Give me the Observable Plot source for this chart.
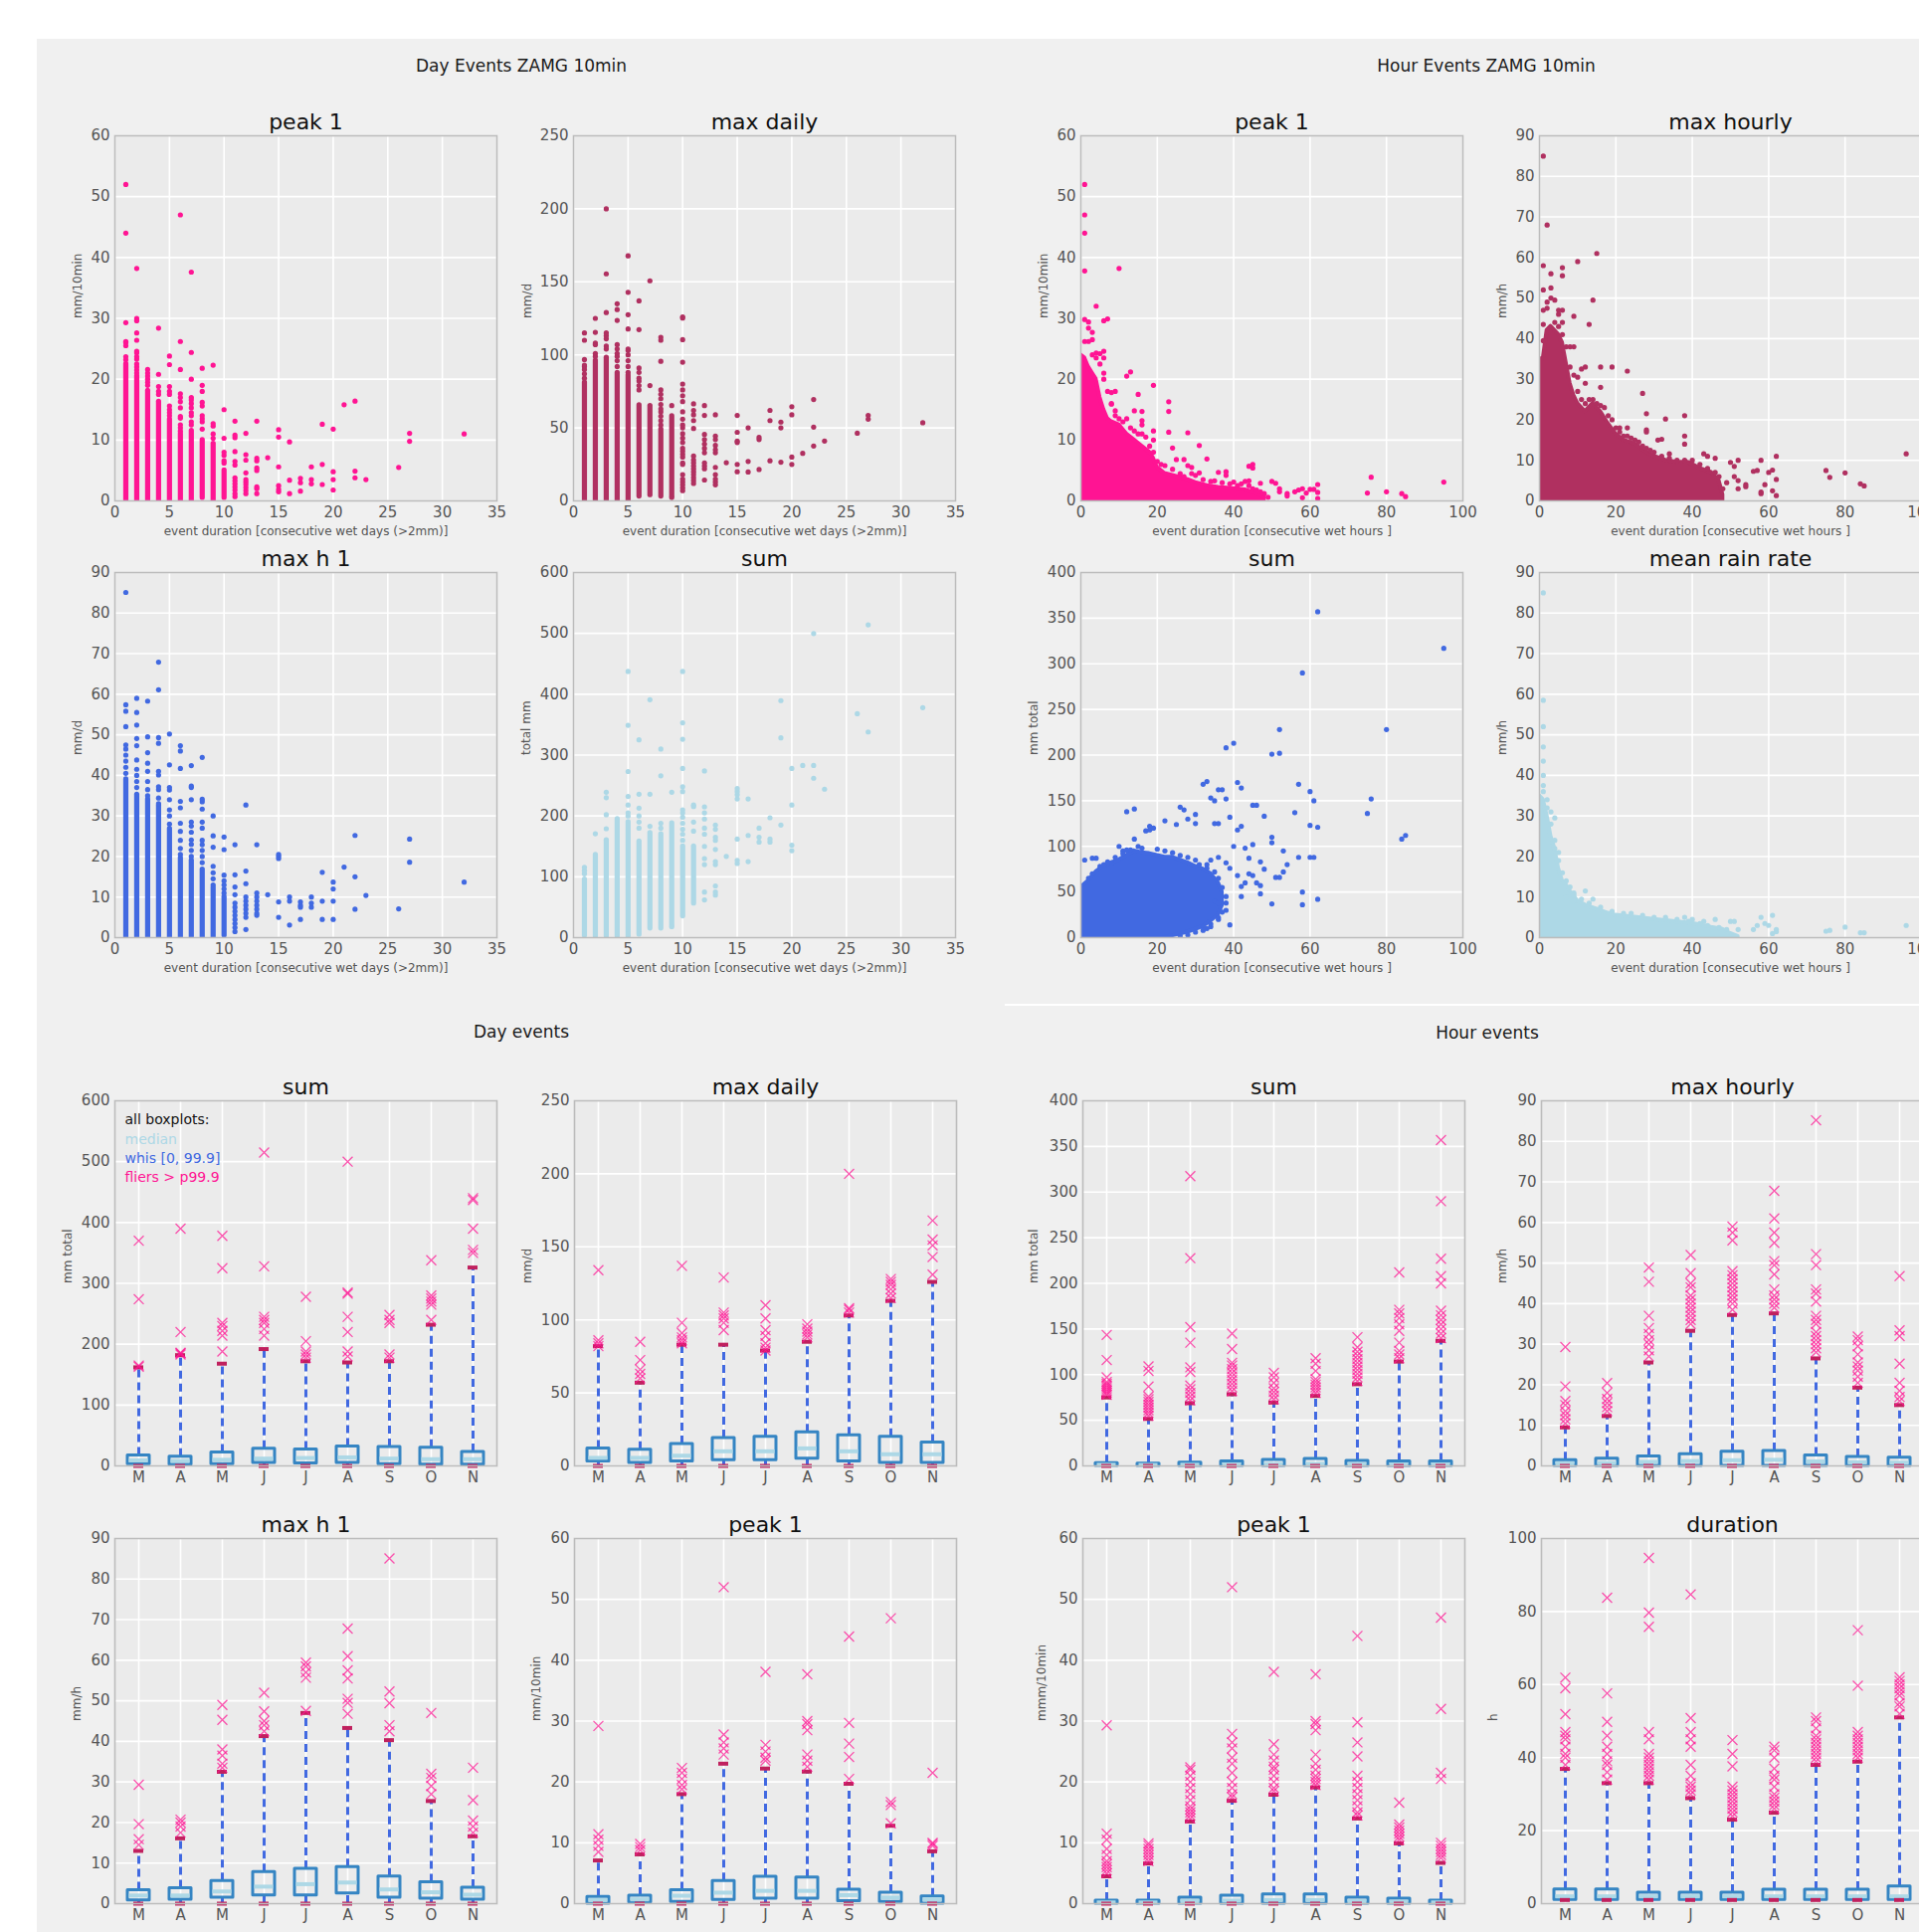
<!DOCTYPE html>
<html><head><meta charset="utf-8">
<script src="https://cdn.jsdelivr.net/npm/d3@7"></script>
<script src="https://cdn.jsdelivr.net/npm/@observablehq/plot@0.6"></script>
<style>
body{margin:0;background:#fff;overflow:hidden;font-family:"DejaVu Sans",sans-serif}
#root{position:relative;width:1929px;height:1942px;overflow:hidden}
.bg{position:absolute;left:37px;top:39px;right:0;bottom:0;background:#f0f0f0}
.sep{position:absolute;left:1010px;top:1009px;right:0;height:2px;background:#fff}
.hdr{position:absolute;transform:translate(-50%,-50%);font-size:17px;color:#1a1a1a;white-space:nowrap}
.panel{position:absolute}
.panel svg{max-width:none !important;display:block}
</style></head>
<body><div id="root"><div class="bg"></div><div class="sep"></div></div>
<script>
// ---------------- DATA ----------------
const monthNames = ["Mar","Apr","May","Jun","Jul","Aug","Sep","Oct","Nov"];
const dayXLabel = "event duration [consecutive wet days (>2mm)]";
const hourXLabel = "event duration [consecutive wet hours ]";
const legendLabels = ["all boxplots:","median","whis [0, 99.9]","fliers > p99.9"];

// Day events scatter: dense stacked columns [duration, low, high] + single points [duration, [values]]
const dayPeakCols = [[1,0,22.5],[2,0,20.5],[3,0,18.1],[4,0,16.3],[5,0,13.4],[6,0,11],[7,0,11.5],[8,0.5,10],[9,0,9.4],[10,0.5,5]];
const dayPeakPts = [[1,[23.2,23.7,25.5,26,26.2,29.3,44,52]],[2,[21,21.5,22,22.5,23.3,23.7,24.3,24.6,26.4,27.6,29.6,30,38.2]],[3,[19,19.5,20,20.5,21,21.6]],[4,[17.5,18,18.8,20.8,28.4]],[5,[14,14.5,15,15.6,17.5,18,18.8,22.4,23.8]],[6,[11.5,12,12.5,13.6,13.9,15.3,16.3,17,17.6,21.6,26.2,47]],[7,[12.5,13,14,14.5,15.3,16,16.6,17,20,24.4,37.6]],[8,[11.8,13,13.5,14,15.6,16.2,18,19,21.8]],[9,[10.3,11,12.3,12.7,22.3]],[10,[6.2,6.6,7.5,8,10.3,15]],[11,[0.7,1.2,1.8,2.3,2.8,3.3,3.8,5.9,6.5,8.1,10.4,10.8,13.1]],[12,[1.2,1.7,2.2,2.7,3.1,3.5,4.6,6.7,7.6,11.1]],[13,[1.2,2,2.3,5,5.4,6.6,7,13.1]],[14,[7.1]],[15,[1.5,1.9,2.5,5.6,10.5,11.7]],[16,[1.2,3.4,9.7]],[17,[1.6,3,3.7]],[18,[2.8,3.5,5.6]],[19,[2.7,6,12.6]],[20,[1.8,3.5,4.8,11.8]],[21,[15.8]],[22,[3.8,4.9,16.4]],[23,[3.5]],[26,[5.5]],[27,[9.8,11.1]],[32,[11]]];

const dayMaxCols = [[1,0,81],[2,0,96],[3,0,98],[4,0,87.6],[5,0,86],[6,3,65.5],[7,4,65],[8,3,49],[9,3,58]];
const dayMaxPts = [[1,[84,87,90,92,93,96.8,110,115]],[2,[99,101,107,108,115.4,125]],[3,[104,106,111,113,115,129,155.5,200]],[4,[92,96,99,101,104,107,123.6,131,135]],[5,[88,92,96,100,103,104,117.7,127.5,142.8,167.8]],[6,[76,79,82,84,88,91,117.3,137]],[7,[79,150.7]],[8,[52,55,58,61,63,66,70,73,76,95.6,110,112]],[9,[2.3,65.3]],[10,[7,9,11,13,15,18,25,26,30,32,34,36,40,43,46,50,52,56,61,68,72,76,80,95,110.4,125.2,126]],[11,[12,14,16,18,20,22,24,26,28,30.7,49.6,55,59,62,66.5]],[12,[14.3,22,24,26,33,36,39,42,45.5,58.5,65.3]],[13,[11,13,15,18,23,33,35,38,42,44.4,59]],[14,[26.2]],[15,[20,25,40,41,47,58.5]],[16,[19.8,27,50]],[17,[21.5,42,43.5]],[18,[27.5,55,62]],[19,[26.5,50,54]],[20,[25,30,59,64.5]],[21,[32.6]],[22,[37.6,50.5,69.4]],[23,[41]],[26,[46.4]],[27,[56,58.5]],[32,[53.5]]];

const dayMaxhCols = [[1,0,39],[2,0,35.2],[3,0,34.1],[4,0,32.5],[5,0,26.8],[6,0,19.6],[7,0,19],[8,0,16.8],[9,0,12.3],[10,0.5,10]];
const dayMaxhPts = [[1,[40.5,42,43.5,45,46.5,47.5,52,55.8,57.4,85.1]],[2,[37,38.5,40,41.5,43.8,47.3,49.1,52.4,55.5,59]],[3,[35,36.5,38.5,41,43,45.6,49.5,58.3]],[4,[33,34.4,36.5,37.2,40.1,41,47.9,49.3,61.1,67.9]],[5,[28,30,31.5,34,36.4,37,42.6,50.2]],[6,[20.5,22,24,26.2,28.2,32,33.6,41.7,46,47.3]],[7,[20,21.5,23,24.1,26,27.5,28.5,34,37,37.4,42.4]],[8,[18.5,20,21.5,22.9,24,27,28.5,31.7,33.5,34.1,44.4]],[9,[13,14.5,16,17.6,22.3,25.1,30]],[10,[11,12,13,14,15.4,21.7,24.8]],[11,[1.5,2.5,3.5,4.5,5.5,6.5,7.5,8.5,10.6,12.5,15.5,22.9]],[12,[2,5,6,7,8,9,10,13.3,16.4,32.7]],[13,[5.5,6,7,8,9,10,11,22.9]],[14,[10.6]],[15,[5,8.8,19.5,20,20.5]],[16,[3.1,9,10]],[17,[4.5,7.5,8,8.8]],[18,[7.5,8.5,10]],[19,[4.5,9,16.1]],[20,[4.5,9,12,13.7]],[21,[17.4]],[22,[7,15,25.2]],[23,[10.4]],[26,[7.1]],[27,[18.6,24.3]],[32,[13.7]]];

const daySumCols = [[1,3,95.5],[2,2,136],[3,2,160],[4,2,195],[5,2,190],[6,5,158],[7,15,172],[8,15,170],[9,20,188],[10,35,150],[11,56,150]];
const daySumPts = [[1,[105,110,115.6]],[2,[170.8]],[3,[179,202,230,239]],[5,[200,205,218,232,273,349,437.5]],[6,[180,190,200,212.8,235.7,325]],[7,[183,235.7,391]],[8,[180,188,266,310]],[9,[18,239]],[10,[160,170,178,188,198,205,210,240,248,278,326,353,437.5]],[11,[175,190,215.5,218]],[12,[62,75,120,130,150,170,180,195,205,215,274]],[13,[70,75,85,120,125,145,160,165,178,185]],[14,[133.6]],[15,[122,127,162,228,235,240,245]],[16,[125,168,228]],[17,[157,165,180]],[18,[157,162,197]],[19,[185,328.4,389.5]],[20,[143,152,218,278]],[21,[283]],[22,[262,283,499.7]],[23,[244]],[26,[368]],[27,[338,514]],[32,[378]]];

// Hour events scatter: dense cloud envelope [duration, low, high] + single points [duration, value]
const hourPeakDense = [[0,0,24],[1,0,23.5],[2,0,22],[3,0,21],[4,0,20],[5,0,17],[6,0,15],[7,0,13.5],[8,0,13],[10,0,12.5],[12,0,11],[14,0,10],[16,0,9],[18,0,8],[19,0,7],[20,0,5.5],[22,0,4.5],[25,0,4],[28,0,3.5],[30,0,3],[33,0,2.5],[36,0,2.2],[40,0,2],[43,0,1.8],[46,0,1.2],[48,0,0.6]];
const hourPeakPts = [[1,52],[1,47],[1,44],[1,37.8],[10,38.2],[4,32],[1,29.8],[2,29.4],[2,28.4],[3,27.7],[1,26.2],[2,26.2],[3,26.5],[6,29.6],[7,29.9],[4,24.3],[5,24.2],[6,24.6],[6,23.5],[6,20],[12,20.5],[13,21.2],[19,19],[8,17.8],[9,18],[15,17.5],[8,15.9],[9,14.8],[14,14.8],[16,14.7],[16,13.2],[16,12.5],[23,16.3],[23,14.7],[23,11.3],[19,11.5],[19,10],[28,11.2],[24,8.7],[31,9.1],[25,6.8],[27,6.8],[28,5.8],[29,5.5],[33,6.9],[31,4.6],[36,4.7],[38,4.8],[38,4.2],[40,3.1],[44,5.7],[45,6],[45,5.4],[43,3.2],[44,3.3],[47,2.9],[50,3.2],[51,2.9],[48,1.2],[49,0.6],[52,2],[52,1.5],[54,1.2],[54,0.8],[56,1.5],[57,1.8],[58,2],[58,0.5],[60,1.9],[61,1.9],[62,2.7],[62,1.4],[62,0.4],[59,1.3],[75,1.3],[76,3.9],[80,1.5],[84,1.2],[85,0.7],[95,3.1],
  [3,24],[4,23.5],[5,22.5],[6,21],[7,18],[8,16],[9,14],[10,13.5],[11,13],[12,13.5],[13,12],[14,11.5],[15,11],[16,11],[17,10.5],[18,9],[19,8],[20,6.5],[21,6],[22,5.8],[24,5.2],[26,4.5],[27,4],[29,4.5],[30,4.2],[32,3.5],[34,3.2],[35,3.3],[37,3],[39,2.8],[41,2.5],[42,2.8],[44,2.5],[45,2],[46,1.8],[47,1.5]];

const hourMaxDense = [[0,0,35],[1,0,35],[2,0,42],[3,0,43],[5,0,41],[6,0,39],[7,0,34],[8,0,29],[9,0,26],[10,0,24],[12,0,22],[14,0,24],[16,0,22],[18,0,19],[20,0,16.5],[22,0,15],[25,0,14],[28,0,12],[30,0,11],[33,0,10],[36,0,9.5],[39,0,9.5],[42,0,8],[45,0,7],[47,0,5],[48,0,1.5]];
const hourMaxPts = [[1,85],[2,68],[15,61],[10,59],[1,58],[6,57.5],[6,55.5],[3,56],[1,52],[3,52.5],[3,50],[4,49.5],[2,49],[14,49.5],[1,47],[2,47.5],[5,47],[6,47],[5,46],[9,45.5],[13,43.5],[1,43.5],[6,44],[1,39.5],[8,38],[9,38],[12,33],[11,32.5],[16,33],[19,33],[23,32],[10,30.5],[12,29],[16,28],[27,26.5],[28,21.5],[38,21],[33,20.2],[28,17.5],[28,17],[23,18],[21,18],[38,16],[38,14],[31,15],[32,15.2],[34,11.6],[43,11.6],[44,11],[46,10.5],[50,9.5],[51,8.5],[52,10],[49,4.5],[51,6],[52,5],[54,4],[54,3.5],[52,3],[57,7.5],[58,10],[56,7.3],[60,7],[61,7.6],[62,11],[62,5.3],[59,4],[61,2.5],[58,1.8],[62,1.3],[58,2.2],[75,7.5],[76,5.8],[80,6.9],[84,4.2],[85,3.7],[96,11.6],
  [4,44],[5,43],[6,41],[7,38],[8,33],[9,31],[10,27],[11,25],[12,24],[13,25],[14,25],[15,24],[16,23.5],[17,23],[18,21],[19,20],[20,18],[21,17],[22,16],[23,16],[24,15.5],[25,15],[26,14.5],[27,13.5],[28,13],[29,12.5],[30,12],[32,11],[34,10.5],[36,10],[38,10],[40,10],[42,9],[44,8],[46,7],[47,6],[48,3]];

const hourSumDense = [[0,0,55],[2,0,62],[4,0,72],[6,0,78],[8,0,82],[10,0,85],[12,0,90],[14,0,95],[16,0,93],[18,0,92],[20,0,90],[22,0,88],[24,2,88],[26,4,85],[28,6,82],[30,9,78],[32,12,75],[34,18,70],[36,25,60],[37,35,50]];
const hourSumPts = [[62,357],[95,317],[58,290],[52,228],[80,228],[40,213],[38,208],[50,201],[52,202],[32,168],[33,171],[41,170],[42,164],[36,162],[37,162],[57,168],[60,160],[61,150],[76,152],[34,153],[35,150],[38,152],[75,136],[56,137],[26,143],[27,140],[12,138],[14,141],[30,135],[28,130],[39,132],[30,125],[35,125],[22,128],[36,125],[45,145],[46,145],[48,133],[60,123],[62,121],[84,108],[85,112],[42,122],[41,118],[18,118],[19,120],[25,124],[50,110],[50,104],[57,88],[60,88],[61,88],[53,95],[54,80],[58,50],[58,36],[62,42],[50,37],[45,68],[51,66],[52,66],[53,72],[47,57],[47,48],[1,85],[3,87],[4,87],[8,82],[10,100],[11,95],[13,96],[14,108],[17,117],[18,122],[40,100],[43,98],[45,102],[39,76],[41,68],[39,14],[42,45],[44,70],[33,80],[34,85],[36,88],[38,82],[42,56],[43,60],[46,60],[35,40],[36,38],[38,30],[36,20],[33,10],[34,12],[32,12],[48,75],[47,83],[44,87],
  [2,65],[3,70],[5,78],[6,80],[7,83],[9,88],[11,92],[12,96],[15,100],[16,98],[20,97],[22,95],[24,93],[26,90],[28,88],[30,85],[31,80],[33,76],[35,72],[36,65],[37,55],[38,45],[38,38],[37,28],[36,22],[34,15],[32,8],[30,6],[28,3],[26,2]];

const hourRateDense = [[0,0,35],[1,0,34],[2,0,30],[3,0,25],[4,0,22],[5,0,17],[6,0,14],[7,0,13],[8,0,11.5],[10,0,9],[12,0,8],[15,0,7],[18,0,6],[20,0,5.5],[25,0,5],[30,0,4.5],[35,0,4],[40,0,3.5],[45,0,2.5],[48,0,2],[50,0,1],[52,0,0.3]];
const hourRatePts = [[1,85],[1,58.5],[1,52],[1,47],[1,43.5],[1,40],[1,37.5],[1,36],[2,34],[3,31],[4,29.5],[4,22],[5,21],[9,11],[12,11.5],[14,9.5],[7,10],[9,9],[33,5],[38,5],[40,4.5],[43,4],[46,4.5],[50,4],[51,4],[52,2],[56,2],[58,5],[59,3.5],[60,3],[61,5.5],[62,2],[62,1.5],[57,3],[61,1],[75,1.6],[76,1.8],[80,2.6],[84,1.2],[85,1.2],[96,3],
  [2,32],[3,28],[4,24],[5,19],[6,16],[7,14],[8,12.5],[9,10.5],[11,9.5],[13,8.5],[16,7.5],[19,6.5],[22,6],[24,6],[27,5.5],[30,5],[33,4.5],[36,4.5],[39,4],[42,3.5],[44,3],[47,2.5],[49,2]];

// Box plots per month (Mar..Nov): lower whisker, q1, median, q3, upper whisker (p99.9), fliers
const zeroLow = [0,0,0,0,0,0,0,0,0];

const daySumQ1 = [3,2,3,5,4,5,3,2,2];
const daySumMed = [9,8,10,12,13,14,12,11,11];
const daySumQ3 = [17,15,22,28,27,32,31,30,23];
const daySumHi = [162,182,168,192,172,170,172,232,326];
const daySumFliers = [[163,165,274,370],[183,185,186,220,390],[188,214,222,230,235,325,378],[214,225,235,240,245,328,515],[178,183,188,205,278],[180,188,220,245,283,285,500],[178,183,235,240,248],[240,265,270,275,280,338],[350,355,390,437,440]];

const dayMaxQ1 = [3,2,3,4,4,5,3,2,2];
const dayMaxMed = [5.5,5.5,7,10,10,12,10,8,8];
const dayMaxQ3 = [12,11,15,19,20,23,21,20,16];
const dayMaxHi = [82,57,83,83,79,85,103,113,126];
const dayMaxFliers = [[82,84,86,134],[60,63,66,72.5,85],[84,86,88,91,98,137],[93,98,101,103,105,129],[79,81,84,89,93,101,110],[88,90,92,94,97],[105,107,108,200],[115,118,121,124,126,128],[131,143,151,155,168]];

const dayMaxhQ1 = [0.8,1,1.5,2,2,2.5,1.5,1.2,1];
const dayMaxhMed = [2,2,3,4.2,4.8,5.2,3.5,2.8,2.2];
const dayMaxhQ3 = [3.3,3.8,5.6,7.8,8.6,9,6.7,5.3,3.9];
const dayMaxhHi = [13,16.1,32.5,41.3,47,43.3,40.3,25.3,16.6];
const dayMaxhFliers = [[14.5,15.9,19.6,29.3],[17.5,19,20,20.7],[33.5,34.5,36.5,38,45.3,49],[42.5,44,45,47.4,52],[47.5,55.7,57,58.5,59.4],[46.8,49.5,50.5,55.5,57.5,61,67.8],[42.5,44,49.4,52.3,85.1],[27,29,31,32,47],[17.5,19,20.5,25.5,33.5]];

const dayPeakQ1 = [0,0.2,0.3,0.6,0.8,0.8,0.4,0.3,0];
const dayPeakMed = [0.6,0.7,1.3,1.8,2.1,2.1,1.4,1,0.7];
const dayPeakQ3 = [1.1,1.3,2.2,3.7,4.4,4.3,2.3,1.8,1.2];
const dayPeakHi = [7.1,8.1,18,23,22.2,21.7,19.7,12.8,8.6];
const dayPeakFliers = [[8.5,9.5,10.5,11.4,29.2],[8.8,9.3,9.8],[18.8,19.5,20.5,21.5,22.3],[24.5,25.5,26.5,27.8,52],[23.5,24,25,26.1,38.1],[22.5,23.5,24.5,28.5,29.5,30,37.7],[20.5,24.1,26.3,29.7,43.9],[13.2,16.2,16.7,46.9],[9.5,9.8,10,21.5]];

const hourSumQ1 = [0,0,0,0,0,0,0,0,0];
const hourSumMed = [1.2,1,1.3,1.6,2,2.2,1.8,1.6,1.6];
const hourSumQ3 = [3,2.5,3.5,5,6.5,7.5,5.5,5,5];
const hourSumHi = [75,51.5,68.7,78.5,69.4,76.7,89.5,114.3,137];
const hourSumFliers = [[78,80,82,84,86,88,90,92,97,116,143.5],[55,58,61,64,67,70,73,76,87,104,109],[72,76,80,84,88,103,108,135,152,227.6,317.5],[82,86,90,94,98,102,106,110,113,128,145],[73,77,81,85,91,97,102],[80,83,86,89,92,95,104,112,118],[93,97,101,105,109,113,117,121,125,130,141],[118,122,126,135,148,155,162,167,171,212],[140,145,150,155,160,165,170,200,208,227,290,357]];

const hourMaxQ1 = [0,0,0,0,0,0,0,0,0];
const hourMaxMed = [0.6,0.7,1,1.2,1.4,1.5,1.1,0.9,0.8];
const hourMaxQ3 = [1.4,1.8,2.3,2.9,3.5,3.7,2.6,2.2,2];
const hourMaxHi = [9.5,12.3,25.5,33.3,37.2,37.6,26.5,19.3,15];
const hourMaxFliers = [[10.5,11.5,12.5,13.5,15,16,19.6,29.3],[13.5,14.5,15.5,16.5,18,20.4],[27,28.5,30,31,32.5,34,37,45.4,48.9],[35,36,37,38,39,40,41,42,44,45,47.5,52],[38.5,40,41,42,43,44,45,46,47,48,55.6,57.5,59],[39,40,41,42,43.5,47.2,49.5,50.5,55,57.5,61,67.8],[28,29,30,31,32,33,35,36,37,40.5,42.5,43.5,49.5,52.2,85.2],[20.5,22,23.5,24.5,25.5,27.5,29.5,31,31.9],[16,17,18.5,20.5,25.2,32,33.4,46.8]];

const hourPeakQ1 = [0,0,0,0,0,0,0,0,0];
const hourPeakMed = [0.2,0.2,0.4,0.5,0.6,0.6,0.4,0.3,0.2];
const hourPeakQ3 = [0.5,0.5,1,1.3,1.5,1.5,1,0.8,0.5];
const hourPeakHi = [4.5,6.6,13.5,16.9,17.9,19.1,14,9.9,6.7];
const hourPeakFliers = [[5,5.5,6,6.5,7,8,9,10.5,11.5,29.3],[7,7.5,8,8.5,9,9.5,9.9],[14,14.5,15,15.5,16,17,18,19,20,21,22,22.4],[17.5,18,19,20,21.5,23,24,25.5,26.5,27.9,52],[18.5,19,20,21,22,22.5,23.5,24.5,26.2,38.1],[19.5,20,20.5,21,22,23,24.5,28.5,29.5,30,37.7],[14.5,15,16,17,18,19,20,21,24.2,26.5,29.8,44],[10.5,11,11.5,12,12.5,13,16.6],[7.5,8,8.5,9,9.5,10,20.5,21.5,32,47]];

const durLow = [1,1,1,1,1,1,1,1,1];
const durQ1 = [1,1,1,1,1,1,1,1,1];
const durMed = [2,2,2,2,2,2,2,2,2];
const durQ3 = [3.9,3.9,3,3,3,3.8,3.8,3.8,4.7];
const durHi = [36.9,33,33,28.9,23,24.9,38,38.9,51];
const durFliers = [[38,40,41,43,45,46,47,51.9,59,61.9],[34,36,38,39,41,43,46,49.8,57.6,83.8],[34,35,36,37,38,39,40,41,45,47,75.8,79.7,94.7],[30,31,32,33,35,38,43,45,47,50.8,84.7],[24,25,26,27,28,29,30,31,32,37.6,41,44.8],[26,27,28,29,30,32,34,35,37,40,42,43],[39,40,41,42,43,44,45,46,48,50,51],[40,41,42,43,44,45,46,47,59.7,74.9],[52,54,55,57,58,59,60,61,62]];

// ---------------- STYLE ----------------
const PINK="#ff1493", MAROON="#b03060", ROYAL="#4169e1", LIGHT="#add8e6";
const AX_BG="#ebebeb", SPINE="#bcbcbc";
const BOX="#3585c3", CAP="#c0215e";
const W=384, H=367, mL=70, mR=6, mT=40, mB=50;
const root = document.getElementById("root");

function place(node, left, top){
  const d=document.createElement("div"); d.className="panel";
  d.style.left=(left-mL)+"px"; d.style.top=(top-mT)+"px";
  d.style.width=(W+mL+mR)+"px"; d.style.height=(H+mT+mB)+"px";
  node.style.maxWidth="none"; node.style.width=(W+mL+mR)+"px"; node.style.height=(H+mT+mB)+"px";
  d.appendChild(node); root.appendChild(d);
}
function header(text,x,y){
  const d=document.createElement("div"); d.className="hdr"; d.textContent=text;
  d.style.left=x+"px"; d.style.top=y+"px"; root.appendChild(d);
}
function commonText(o){
  return [
    Plot.text([o.title],{text:d=>d, frameAnchor:"top", dy:-14, fontSize:22, fill:"#111", lineAnchor:"middle"}),
    Plot.text([o.ylabel],{text:d=>d, frameAnchor:"left", dx:-o.yoff, rotate:-90, fontSize:12, fill:"#555"})
  ];
}
function base(o, marks){
  return Plot.plot({
    width:W+mL+mR, height:H+mT+mB, marginLeft:mL, marginRight:mR, marginTop:mT, marginBottom:mB,
    style:{background:"transparent", fontFamily:"DejaVu Sans", color:"#555", overflow:"visible"},
    x:o.x, y:{domain:o.yDomain},
    marks
  });
}
function scatterPanel(o){
  const pts = o.grouped ? o.pts.flatMap(([x,vs])=>vs.map(v=>[x,v])) : o.pts;
  const marks=[
    Plot.frame({fill:AX_BG, stroke:null}),
    Plot.gridX({ticks:o.xTicks, stroke:"white", strokeOpacity:1, strokeWidth:1.6}),
    Plot.gridY({ticks:o.yTicks, stroke:"white", strokeOpacity:1, strokeWidth:1.6})
  ];
  if(o.cols) marks.push(Plot.ruleX(o.cols,{x:d=>d[0], y1:d=>d[1], y2:d=>d[2], stroke:o.color, strokeWidth:5.2, strokeLinecap:"round", clip:true}));
  if(o.dense) marks.push(Plot.areaY(o.dense,{x:d=>d[0], y1:d=>d[1], y2:d=>d[2], fill:o.color, stroke:o.color, strokeWidth:4, strokeLinejoin:"round", clip:true}));
  marks.push(Plot.dot(pts,{x:d=>d[0], y:d=>d[1], r:2.6, fill:o.color, clip:true}));
  marks.push(Plot.frame({stroke:SPINE, strokeWidth:1.6}));
  marks.push(Plot.axisX({ticks:o.xTicks, tickSize:0, tickPadding:6, fontSize:15, label:null}));
  marks.push(Plot.axisY({ticks:o.yTicks, tickSize:0, tickPadding:5, fontSize:15, label:null}));
  marks.push(...commonText(o));
  marks.push(Plot.text([o.xlabel],{text:d=>d, frameAnchor:"bottom", dy:34, fontSize:12, fill:"#555"}));
  o.x={domain:o.xDomain};
  place(base(o,marks), o.left, o.top);
}
function boxPanel(o){
  const rows = monthNames.map((m,i)=>({m, lo:o.lo[i], q1:o.q1[i], med:o.med[i], q3:o.q3[i], hi:o.hi[i]}));
  const fl = monthNames.flatMap((m,i)=>o.fliers[i].map(v=>({m,v})));
  const marks=[
    Plot.frame({fill:AX_BG, stroke:null}),
    Plot.gridX({stroke:"white", strokeOpacity:1, strokeWidth:1.6}),
    Plot.gridY({ticks:o.yTicks, stroke:"white", strokeOpacity:1, strokeWidth:1.6}),
    Plot.ruleX(rows,{x:"m", y1:"lo", y2:"q1", stroke:ROYAL, strokeWidth:3, strokeDasharray:"8,5"}),
    Plot.ruleX(rows,{x:"m", y1:"q3", y2:"hi", stroke:ROYAL, strokeWidth:3, strokeDasharray:"8,5"}),
    Plot.barY(rows,{x:"m", y1:"q1", y2:"q3", fill:"none", stroke:BOX, strokeWidth:3, strokeLinejoin:"round", insetLeft:10, insetRight:10}),
    Plot.tickY(rows,{x:"m", y:"med", stroke:LIGHT, strokeWidth:4, insetLeft:11.5, insetRight:11.5}),
    Plot.tickY(rows,{x:"m", y:"hi", stroke:CAP, strokeWidth:4, insetLeft:16, insetRight:16}),
    Plot.tickY(rows,{x:"m", y:"lo", stroke:CAP, strokeWidth:4, insetLeft:16, insetRight:16}),
    Plot.dot(fl,{x:"m", y:"v", symbol:"times", r:4.6, stroke:PINK, strokeWidth:1.3, strokeOpacity:0.72}),
    Plot.frame({stroke:SPINE, strokeWidth:1.6}),
    Plot.axisX({tickSize:0, tickPadding:6, fontSize:15, tickFormat:d=>d[0], label:null}),
    Plot.axisY({ticks:o.yTicks, tickSize:0, tickPadding:5, fontSize:15, label:null}),
    ...commonText(o)
  ];
  if(o.legend){
    const cols=["#111", LIGHT, ROYAL, PINK];
    legendLabels.forEach((t,i)=>marks.push(Plot.text([t],{text:d=>d, frameAnchor:"top-left", textAnchor:"start", dx:10, dy:14+19.3*i, fontSize:14, fill:cols[i]})));
  }
  o.x={type:"band", domain:monthNames, padding:0};
  place(base(o,marks), o.left, o.top);
}

const dayX=[0,35], dayXT=d3.range(0,36,5), hourX=[0,100], hourXT=d3.range(0,101,20);
const tk=(max,step)=>d3.range(0,max+step/2,step);

// ---------- headers ----------
header("Day Events ZAMG 10min",524,66);
header("Hour Events ZAMG 10min",1494,66);
header("Day events",524,1037);
header("Hour events",1495,1038);

// ---------- scatter rows ----------
scatterPanel({left:115, top:136, title:"peak 1", ylabel:"mm/10min", yoff:37, xlabel:dayXLabel, xDomain:dayX, xTicks:dayXT, yDomain:[0,60], yTicks:tk(60,10), color:PINK, cols:dayPeakCols, pts:dayPeakPts, grouped:true});
scatterPanel({left:576, top:136, title:"max daily", ylabel:"mm/d", yoff:46, xlabel:dayXLabel, xDomain:dayX, xTicks:dayXT, yDomain:[0,250], yTicks:tk(250,50), color:MAROON, cols:dayMaxCols, pts:dayMaxPts, grouped:true});
scatterPanel({left:1086, top:136, title:"peak 1", ylabel:"mm/10min", yoff:37, xlabel:hourXLabel, xDomain:hourX, xTicks:hourXT, yDomain:[0,60], yTicks:tk(60,10), color:PINK, dense:hourPeakDense, pts:hourPeakPts});
scatterPanel({left:1547, top:136, title:"max hourly", ylabel:"mm/h", yoff:37, xlabel:hourXLabel, xDomain:hourX, xTicks:hourXT, yDomain:[0,90], yTicks:tk(90,10), color:MAROON, dense:hourMaxDense, pts:hourMaxPts});

scatterPanel({left:115, top:575, title:"max h 1", ylabel:"mm/d", yoff:37, xlabel:dayXLabel, xDomain:dayX, xTicks:dayXT, yDomain:[0,90], yTicks:tk(90,10), color:ROYAL, cols:dayMaxhCols, pts:dayMaxhPts, grouped:true});
scatterPanel({left:576, top:575, title:"sum", ylabel:"total mm", yoff:47, xlabel:dayXLabel, xDomain:dayX, xTicks:dayXT, yDomain:[0,600], yTicks:tk(600,100), color:LIGHT, cols:daySumCols, pts:daySumPts, grouped:true});
scatterPanel({left:1086, top:575, title:"sum", ylabel:"mm total", yoff:47, xlabel:hourXLabel, xDomain:hourX, xTicks:hourXT, yDomain:[0,400], yTicks:tk(400,50), color:ROYAL, dense:hourSumDense, pts:hourSumPts});
scatterPanel({left:1547, top:575, title:"mean rain rate", ylabel:"mm/h", yoff:37, xlabel:hourXLabel, xDomain:hourX, xTicks:hourXT, yDomain:[0,90], yTicks:tk(90,10), color:LIGHT, dense:hourRateDense, pts:hourRatePts});

// ---------- box rows ----------
boxPanel({left:115, top:1106, title:"sum", ylabel:"mm total", yoff:47, yDomain:[0,600], yTicks:tk(600,100), lo:zeroLow, q1:daySumQ1, med:daySumMed, q3:daySumQ3, hi:daySumHi, fliers:daySumFliers, legend:true});
boxPanel({left:577, top:1106, title:"max daily", ylabel:"mm/d", yoff:47, yDomain:[0,250], yTicks:tk(250,50), lo:zeroLow, q1:dayMaxQ1, med:dayMaxMed, q3:dayMaxQ3, hi:dayMaxHi, fliers:dayMaxFliers});
boxPanel({left:1088, top:1106, title:"sum", ylabel:"mm total", yoff:49, yDomain:[0,400], yTicks:tk(400,50), lo:zeroLow, q1:hourSumQ1, med:hourSumMed, q3:hourSumQ3, hi:hourSumHi, fliers:hourSumFliers});
boxPanel({left:1549, top:1106, title:"max hourly", ylabel:"mm/h", yoff:39, yDomain:[0,90], yTicks:tk(90,10), lo:zeroLow, q1:hourMaxQ1, med:hourMaxMed, q3:hourMaxQ3, hi:hourMaxHi, fliers:hourMaxFliers});

boxPanel({left:115, top:1546, title:"max h 1", ylabel:"mm/h", yoff:38, yDomain:[0,90], yTicks:tk(90,10), lo:zeroLow, q1:dayMaxhQ1, med:dayMaxhMed, q3:dayMaxhQ3, hi:dayMaxhHi, fliers:dayMaxhFliers});
boxPanel({left:577, top:1546, title:"peak 1", ylabel:"mm/10min", yoff:38, yDomain:[0,60], yTicks:tk(60,10), lo:zeroLow, q1:dayPeakQ1, med:dayPeakMed, q3:dayPeakQ3, hi:dayPeakHi, fliers:dayPeakFliers});
boxPanel({left:1088, top:1546, title:"peak 1", ylabel:"mmm/10min", yoff:41, yDomain:[0,60], yTicks:tk(60,10), lo:zeroLow, q1:hourPeakQ1, med:hourPeakMed, q3:hourPeakQ3, hi:hourPeakHi, fliers:hourPeakFliers});
boxPanel({left:1549, top:1546, title:"duration", ylabel:"h", yoff:48, yDomain:[0,100], yTicks:tk(100,20), lo:durLow, q1:durQ1, med:durMed, q3:durQ3, hi:durHi, fliers:durFliers});
</script></body></html>
